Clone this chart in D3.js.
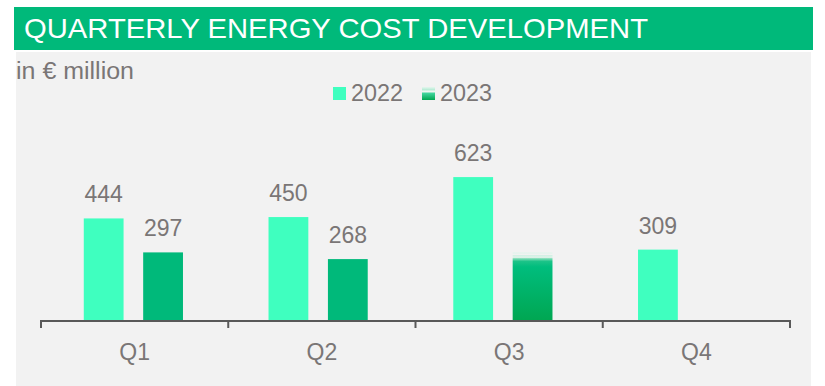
<!DOCTYPE html>
<html>
<head>
<meta charset="utf-8">
<script src="https://cdn.jsdelivr.net/npm/d3@7"></script>
<style>
  html, body { margin: 0; padding: 0; background: #ffffff; }
  svg { display: block; font-family: "Liberation Sans", Arial, sans-serif; }
</style>
</head>
<body>
<svg id="chart" width="825" height="386"></svg>
<script>
const title = "QUARTERLY ENERGY COST DEVELOPMENT";
const unitLabel = "in € million";
const quarters = ["Q1", "Q2", "Q3", "Q4"];
const seriesNames = ["2022", "2023"];
const values2022 = [444, 450, 623, 309];
const values2023 = [297, 268, 300, null];
const labels2022 = ["444", "450", "623", "309"];
const labels2023 = ["297", "268", null, null];
const estimated2023 = [false, false, true, false];

const svg = d3.select("#chart");

// gradients
const defs = svg.append("defs");
const g1 = defs.append("linearGradient").attr("id", "estGrad")
  .attr("x1", 0).attr("y1", 0).attr("x2", 0).attr("y2", 1);
[[0, "#f2f2f2"], [0.02, "#e2f4ec"], [0.04, "#f2f2f2"], [0.06, "#c8efdf"], [0.08, "#eef5f1"],
 [0.10, "#7fdcb6"], [0.14, "#1cc388"], [0.22, "#00bd7d"], [1, "#00a651"]]
  .forEach(([o, c]) => g1.append("stop").attr("offset", o).attr("stop-color", c));
const g2 = defs.append("linearGradient").attr("id", "legGrad")
  .attr("x1", 0).attr("y1", 0).attr("x2", 0).attr("y2", 1);
[[0, "#e6f6ef"], [0.2, "#b9ecd6"], [0.35, "#f0f7f3"], [0.5, "#3fd39a"], [1, "#00a651"]]
  .forEach(([o, c]) => g2.append("stop").attr("offset", o).attr("stop-color", c));

// title bar
svg.append("rect").attr("x", 14).attr("y", 7).attr("width", 799).attr("height", 43)
  .attr("fill", "#00b97a");
svg.append("text").attr("x", 24).attr("y", 38).attr("fill", "#ffffff")
  .attr("font-size", 28).attr("textLength", 624).attr("lengthAdjust", "spacingAndGlyphs")
  .text(title);

// panel
svg.append("rect").attr("x", 16).attr("y", 52).attr("width", 795).attr("height", 334)
  .attr("fill", "#f2f2f2");

svg.append("text").attr("x", 16).attr("y", 79).attr("fill", "#7a7676")
  .attr("font-size", 23).attr("textLength", 118).attr("lengthAdjust", "spacingAndGlyphs")
  .text(unitLabel);

// legend
const legend = [
  { name: seriesNames[0], fill: "#3fffbf", x: 333 },
  { name: seriesNames[1], fill: "url(#legGrad)", x: 422 }
];
legend.forEach(l => {
  svg.append("rect").attr("x", l.x).attr("y", 87).attr("width", 13).attr("height", 13).attr("fill", l.fill);
  svg.append("text").attr("x", l.x + 18).attr("y", 101).attr("fill", "#7a7676")
    .attr("font-size", 23).attr("textLength", 52).attr("lengthAdjust", "spacingAndGlyphs")
    .text(l.name);
});

// scales
const x0 = d3.scaleBand().domain(quarters).range([41, 790]).padding(0);      // axis bands
const xb = d3.scaleBand().domain(quarters).range([41, 780]).padding(0);      // bar groups
const x1 = d3.scaleBand().domain(seriesNames).range([0, xb.bandwidth()])
  .paddingInner(0.33).paddingOuter(0.72);
const y = d3.scaleLinear().domain([0, 700]).range([321, 321 - 0.231 * 700]);

const data = quarters.map((q, i) => ({
  q,
  bars: [
    { s: "2022", v: values2022[i], label: labels2022[i], fill: "#3fffbf" },
    { s: "2023", v: values2023[i], label: labels2023[i], fill: estimated2023[i] ? "url(#estGrad)" : "#00b97a" }
  ].filter(d => d.v != null)
}));

const groups = svg.append("g").selectAll("g").data(data).join("g")
  .attr("transform", d => `translate(${xb(d.q)},0)`);

groups.selectAll("rect").data(d => d.bars).join("rect")
  .attr("x", d => x1(d.s))
  .attr("width", x1.bandwidth())
  .attr("y", d => y(d.v))
  .attr("height", d => y(0) - y(d.v))
  .attr("fill", d => d.fill);

groups.selectAll("text.val").data(d => d.bars.filter(b => b.label)).join("text")
  .attr("class", "val")
  .attr("x", d => x1(d.s) + x1.bandwidth() / 2)
  .attr("y", d => y(d.v) - 16)
  .attr("text-anchor", "middle")
  .attr("fill", "#7a7676")
  .attr("font-size", 23)
  .text(d => d.label);

// axis
const axisG = svg.append("g");
axisG.append("line").attr("x1", 41).attr("x2", 790).attr("y1", 321).attr("y2", 321)
  .attr("stroke", "#595959").attr("stroke-width", 2);
const tickPos = quarters.map(q => x0(q)).concat([x0.range()[1]]);
axisG.selectAll("line.tick").data(tickPos).join("line").attr("class", "tick")
  .attr("x1", d => d).attr("x2", d => d).attr("y1", 320).attr("y2", 328)
  .attr("stroke", "#595959").attr("stroke-width", 2);
axisG.selectAll("text").data(quarters).join("text")
  .attr("x", d => x0(d) + x0.bandwidth() / 2)
  .attr("y", 360)
  .attr("text-anchor", "middle")
  .attr("fill", "#7a7676")
  .attr("font-size", 23)
  .text(d => d);
</script>
</body>
</html>
